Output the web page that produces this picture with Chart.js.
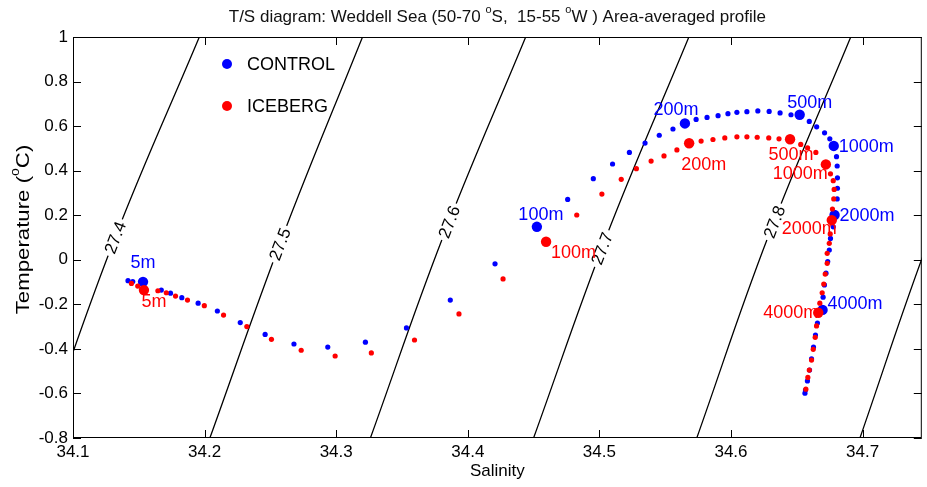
<!DOCTYPE html>
<html>
<head>
<meta charset="utf-8">
<script src="https://cdn.jsdelivr.net/npm/chart.js@4/dist/chart.umd.min.js"></script>
<style>
  html, body { margin: 0; padding: 0; background: #fff; }
</style>
</head>
<body>
<canvas id="tsChart" width="927" height="487"></canvas>
<script>
// axis ticks
const salinityTicks = [34.1, 34.2, 34.3, 34.4, 34.5, 34.6, 34.7];
const tempTicks = [-0.8, -0.6, -0.4, -0.2, 0, 0.2, 0.4, 0.6, 0.8, 1];

// CONTROL run, area-averaged profile (salinity / potential temperature)
const controlS = [34.1418, 34.1454, 34.1671, 34.1741, 34.1827, 34.1951, 34.2097, 34.2271, 34.2460, 34.2679,
  34.2936, 34.3222, 34.3534, 34.3867, 34.4207, 34.4759, 34.4954, 34.5100, 34.5228, 34.5347,
  34.5455, 34.5559, 34.5735, 34.5818, 34.5902, 34.5977, 34.6045, 34.6121, 34.6204, 34.6290,
  34.6373, 34.6456, 34.6595, 34.6651, 34.6711, 34.6751, 34.6802, 34.6807, 34.6809, 34.6809,
  34.6807, 34.6777, 34.6756, 34.6747, 34.6735, 34.6722, 34.6710, 34.6700, 34.6657, 34.6642,
  34.6627, 34.6612, 34.6597, 34.6581, 34.6566, 34.6562];
const controlT = [-0.094, -0.098, -0.136, -0.150, -0.170, -0.195, -0.230, -0.282, -0.335, -0.378,
  -0.392, -0.370, -0.306, -0.181, -0.018, 0.271, 0.364, 0.430, 0.482, 0.524,
  0.559, 0.587, 0.630, 0.639, 0.647, 0.656, 0.662, 0.665, 0.668, 0.666,
  0.659, 0.651, 0.621, 0.597, 0.570, 0.543, 0.463, 0.421, 0.368, 0.321,
  0.273, 0.148, 0.096, 0.044, -0.008, -0.060, -0.113, -0.168, -0.284, -0.338,
  -0.392, -0.445, -0.495, -0.544, -0.585, -0.599];

// ICEBERG run
const icebergS = [34.1444, 34.1492, 34.1645, 34.1709, 34.1779, 34.1870, 34.1998, 34.2144, 34.2321, 34.2508,
  34.2734, 34.2992, 34.3267, 34.3595, 34.3933, 34.4268, 34.4828, 34.5019, 34.5166, 34.5281,
  34.5393, 34.5491, 34.5589, 34.5773, 34.5863, 34.5953, 34.6045, 34.6121, 34.6199, 34.6287,
  34.6365, 34.6530, 34.6582, 34.6645, 34.6756, 34.6777, 34.6784, 34.6781, 34.6771, 34.6754,
  34.6747, 34.6731, 34.6731, 34.6716, 34.6705, 34.6693, 34.6675, 34.6650, 34.6640, 34.6625,
  34.6612, 34.6595, 34.6584, 34.6569];
const icebergT = [-0.106, -0.118, -0.139, -0.148, -0.163, -0.181, -0.206, -0.248, -0.300, -0.357,
  -0.406, -0.432, -0.418, -0.360, -0.243, -0.086, 0.201, 0.295, 0.361, 0.409,
  0.443, 0.466, 0.493, 0.533, 0.540, 0.547, 0.552, 0.552, 0.550, 0.547,
  0.543, 0.518, 0.502, 0.482, 0.386, 0.355, 0.316, 0.273, 0.228, 0.116,
  0.074, 0.029, -0.016, -0.064, -0.109, -0.148, -0.195, -0.297, -0.348, -0.402,
  -0.450, -0.495, -0.528, -0.581];

// selected depth levels
const depthNames = ['5m', '100m', '200m', '500m', '1000m', '2000m', '4000m'];
const controlDepthS = [34.1532, 34.4525, 34.5650, 34.6522, 34.6781, 34.6787, 34.6696];
const controlDepthT = [-0.099, 0.148, 0.612, 0.651, 0.511, 0.201, -0.225];
const icebergDepthS = [34.1539, 34.4595, 34.5682, 34.6449, 34.6721, 34.6766, 34.6663];
const icebergDepthT = [-0.136, 0.081, 0.523, 0.541, 0.428, 0.178, -0.238];

// sigma-theta isopycnals, sampled at three temperatures
const sigmaLevels = ['27.4', '27.5', '27.6', '27.7', '27.8', '27.9'];
const isoT = [-0.8, 0.1, 1.0];
const isoS = [
  [34.077, 34.132, 34.196],
  [34.204, 34.259, 34.320],
  [34.326, 34.381, 34.444],
  [34.450, 34.505, 34.568],
  [34.574, 34.628, 34.691],
  [34.698, 34.751, 34.812]
];
const isoLabelT = [0.10, 0.07, 0.17, 0.05, 0.17, null];

// text placement next to the depth markers: [dx, dy, align] in px
const controlLabelPos = [[0, -19, 'center'], [4, -12, 'center'], [-9, -13, 'center'], [10, -12, 'center'],
  [5, 1, 'left'], [5, 1, 'left'], [5, -6, 'left']];
const icebergLabelPos = [[10, 12, 'center'], [5, 11, 'left'], [-8, 22, 'left'], [1, 16, 'center'],
  [2, 10, 'right'], [5, 9, 'right'], [0, 0, 'right']];

const BLUE = '#0000ff';
const RED = '#ff0000';
const FONT = 'Arial, "Liberation Sans", Helvetica, sans-serif';

const toPts = (xs, ys) => xs.map((s, i) => ({ x: s, y: ys[i] }));

function sAtT(i, t) {
  const s = isoS[i];
  for (let k = 0; k < isoT.length - 1; k++) {
    if (t >= isoT[k] && t <= isoT[k + 1]) {
      const f = (t - isoT[k]) / (isoT[k + 1] - isoT[k]);
      return s[k] + f * (s[k + 1] - s[k]);
    }
  }
  return s[1];
}

// text with raised small "o" (degree) pieces
function drawRich(ctx, parts, x, y, size, align) {
  const small = Math.round(size * 0.62);
  let w = 0;
  parts.forEach(p => {
    ctx.font = (p.sup ? small : size) + 'px ' + FONT;
    w += ctx.measureText(p.t).width;
  });
  let cx = align === 'center' ? x - w / 2 : x;
  ctx.textAlign = 'left';
  ctx.textBaseline = 'middle';
  parts.forEach(p => {
    ctx.font = (p.sup ? small : size) + 'px ' + FONT;
    ctx.fillText(p.t, cx, p.sup ? y - size * 0.42 : y);
    cx += ctx.measureText(p.t).width;
  });
}

const isoDatasets = sigmaLevels.map((lvl, i) => ({
  label: lvl,
  data: toPts(isoS[i], isoT),
  showLine: true,
  borderColor: '#000',
  borderWidth: 1.3,
  pointRadius: 0,
  tension: 0.4,
  order: 10
}));

const decorations = {
  id: 'decorations',
  afterDatasetsDraw(chart) {
    const { ctx, chartArea: a, scales: { x, y } } = chart;
    ctx.save();

    // isopycnal labels, broken into the line
    ctx.font = '17px ' + FONT;
    sigmaLevels.forEach((lvl, i) => {
      const t = isoLabelT[i];
      if (t == null) return;
      const px = x.getPixelForValue(sAtT(i, t));
      const py = y.getPixelForValue(t);
      const dx = x.getPixelForValue(isoS[i][2]) - x.getPixelForValue(isoS[i][0]);
      const dy = y.getPixelForValue(isoT[2]) - y.getPixelForValue(isoT[0]);
      ctx.save();
      ctx.translate(px, py);
      ctx.rotate(Math.atan2(dy, dx));
      const w = ctx.measureText(lvl).width;
      ctx.fillStyle = '#fff';
      ctx.fillRect(-w / 2 - 3, -8, w + 6, 16);
      ctx.fillStyle = '#000';
      ctx.textAlign = 'center';
      ctx.textBaseline = 'middle';
      ctx.fillText(lvl, 0, 1);
      ctx.restore();
    });

    // depth labels
    ctx.font = '18px ' + FONT;
    ctx.textBaseline = 'middle';
    const depthText = (ss, ts, pos, color) => {
      ctx.fillStyle = color;
      depthNames.forEach((d, i) => {
        ctx.textAlign = pos[i][2];
        ctx.fillText(d, x.getPixelForValue(ss[i]) + pos[i][0], y.getPixelForValue(ts[i]) + pos[i][1]);
      });
    };
    depthText(controlDepthS, controlDepthT, controlLabelPos, BLUE);
    depthText(icebergDepthS, icebergDepthT, icebergLabelPos, RED);

    // legend without a box, inside the axes
    const legend = [['CONTROL', BLUE, 27], ['ICEBERG', RED, 69]];
    legend.forEach(([name, color, off]) => {
      ctx.fillStyle = color;
      ctx.beginPath();
      ctx.arc(a.left + 154, a.top + off, 5, 0, Math.PI * 2);
      ctx.fill();
      ctx.fillStyle = '#000';
      ctx.textAlign = 'left';
      ctx.fillText(name, a.left + 174, a.top + off + 1);
    });
    ctx.restore();
  },
  afterDraw(chart) {
    const { ctx, chartArea: a, scales: { x, y } } = chart;
    ctx.save();
    // axes box with inward ticks on all four sides
    ctx.strokeStyle = '#000';
    ctx.lineWidth = 1;
    ctx.strokeRect(a.left + 0.5, a.top + 0.5, a.right - a.left - 1, a.bottom - a.top - 1);
    ctx.beginPath();
    salinityTicks.forEach(v => {
      const px = Math.round(x.getPixelForValue(v)) + 0.5;
      ctx.moveTo(px, a.bottom); ctx.lineTo(px, a.bottom - 8);
      ctx.moveTo(px, a.top); ctx.lineTo(px, a.top + 8);
    });
    tempTicks.forEach(v => {
      const py = Math.round(y.getPixelForValue(v)) + 0.5;
      ctx.moveTo(a.left, py); ctx.lineTo(a.left + 8, py);
      ctx.moveTo(a.right, py); ctx.lineTo(a.right - 8, py);
    });
    ctx.stroke();

    ctx.fillStyle = '#111';
    drawRich(ctx, [
      { t: 'T/S diagram: Weddell Sea (50-70 ' }, { t: 'o', sup: true },
      { t: 'S,  15-55 ' }, { t: 'o', sup: true }, { t: 'W ) Area-averaged profile' }
    ], (a.left + a.right) / 2, 17, 17, 'center');

    ctx.fillStyle = '#000';
    drawRich(ctx, [{ t: 'Salinity' }], (a.left + a.right) / 2, 471, 17, 'center');

    // y title, stretched a little along its length
    ctx.save();
    ctx.translate(24, (a.top + a.bottom) / 2 - 8);
    ctx.rotate(-Math.PI / 2);
    ctx.scale(1.17, 1);
    drawRich(ctx, [{ t: 'Temperature (' }, { t: 'o', sup: true }, { t: 'C)' }], 0, 0, 19, 'center');
    ctx.restore();
    ctx.restore();
  }
};

new Chart(document.getElementById('tsChart'), {
  type: 'scatter',
  data: {
    datasets: [
      ...isoDatasets,
      { label: 'CONTROL', data: toPts(controlS, controlT), backgroundColor: BLUE, borderWidth: 0, pointRadius: 2.6, order: 4 },
      { label: 'CONTROL depths', data: toPts(controlDepthS, controlDepthT), backgroundColor: BLUE, borderWidth: 0, pointRadius: 5.2, order: 3 },
      { label: 'ICEBERG', data: toPts(icebergS, icebergT), backgroundColor: RED, borderWidth: 0, pointRadius: 2.6, order: 2 },
      { label: 'ICEBERG depths', data: toPts(icebergDepthS, icebergDepthT), backgroundColor: RED, borderWidth: 0, pointRadius: 5.2, order: 1 }
    ]
  },
  options: {
    responsive: false,
    devicePixelRatio: 1,
    animation: false,
    layout: { padding: { top: 37, right: 1, left: 0, bottom: 0 } },
    plugins: { legend: { display: false }, tooltip: { enabled: false }, title: { display: false } },
    scales: {
      x: {
        type: 'linear',
        min: 34.1,
        max: 34.745,
        afterFit: s => { s.height = 49; },
        afterBuildTicks: s => { s.ticks = salinityTicks.map(v => ({ value: v })); },
        grid: { display: false, drawTicks: false },
        border: { display: false },
        ticks: { color: '#000', padding: 4, maxRotation: 0, font: { family: FONT, size: 17 }, callback: v => v.toFixed(1) }
      },
      y: {
        type: 'linear',
        min: -0.8,
        max: 1,
        afterFit: s => { s.width = 73; },
        afterBuildTicks: s => { s.ticks = tempTicks.map(v => ({ value: v })); },
        grid: { display: false, drawTicks: false },
        border: { display: false },
        ticks: { color: '#000', padding: 5, font: { family: FONT, size: 17 }, callback: v => String(+v.toFixed(1)) }
      }
    }
  },
  plugins: [decorations]
});
</script>
</body>
</html>
